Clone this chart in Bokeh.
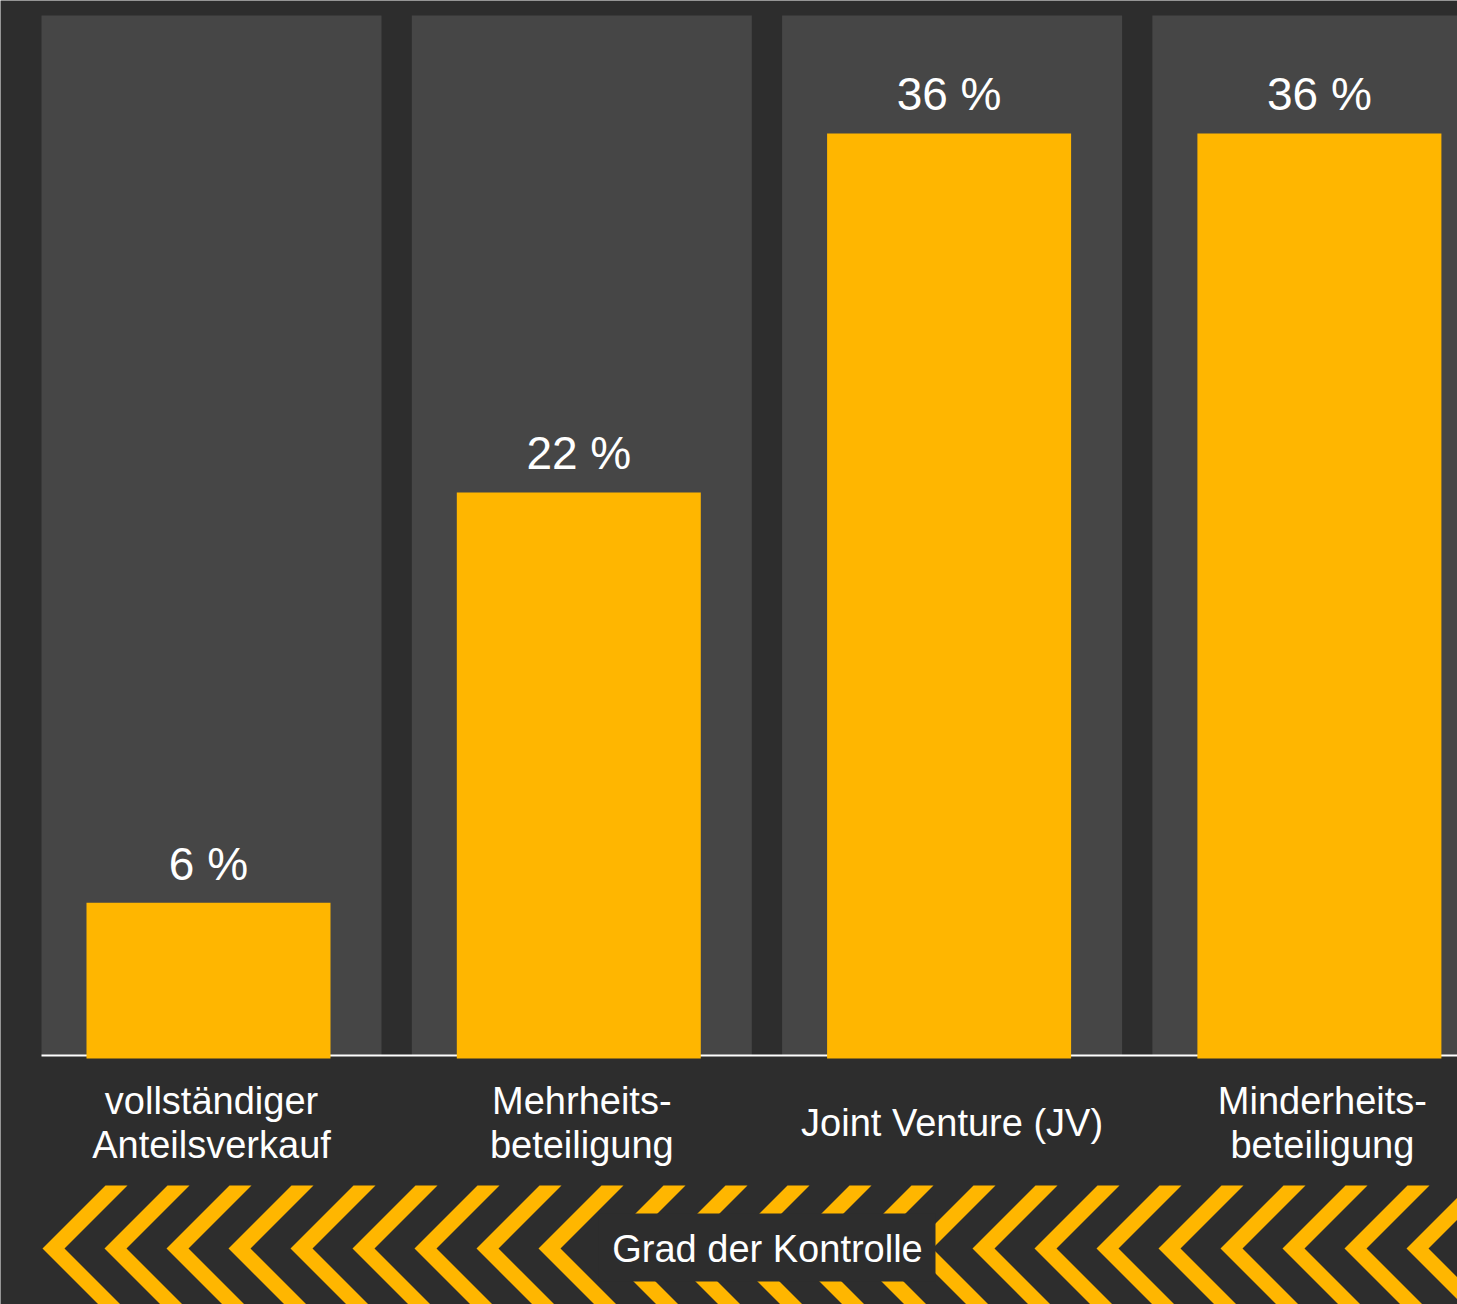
from bokeh.plotting import figure
from bokeh.models import Range1d
from bokeh.core.properties import value
from bokeh.embed import file_html
from bokeh.resources import INLINE

# ---- data ----
categories = ["vollständiger\nAnteilsverkauf", "Mehrheits-\nbeteiligung",
              "Joint Venture (JV)", "Minderheits-\nbeteiligung"]
shares = [6, 22, 36, 36]
share_labels = ["6 %", "22 %", "36 %", "36 %"]
band_title = "Grad der Kontrolle"

# ---- style / layout constants ----
W, H = 1457, 1304
BG = "#2d2d2d"
PANEL = "#464646"
GOLD = "#FFB600"
FONT = "Liberation Sans"

PITCH = 370.3      # px per category slot
X0 = 211.0         # px centre of first slot
PPU = 25.64        # px per percentage point
Y0 = 1056.0        # px of zero line


def X(px):
    return (px - X0) / PITCH


def Y(py):
    return (Y0 - py) / PPU


p = figure(width=W, height=H, output_backend="svg", toolbar_location=None,
           x_range=Range1d(X(0), X(W)), y_range=Range1d(Y(H), Y(0)),
           min_border=0, x_axis_location=None, y_axis_location=None)
p.background_fill_color = BG
p.border_fill_color = BG
p.outline_line_color = None
p.grid.visible = False

idx = list(range(len(categories)))

# background panels
p.vbar(x=idx, width=340 / PITCH, bottom=Y(1055), top=Y(15),
       fill_color=PANEL, line_color=None)

# baseline
p.segment(x0=[X(41)], y0=[Y(1055)], x1=[X(W + 5)], y1=[Y(1055)],
          line_color="white", line_width=2)

# bars
bar_x = [i - 3 / PITCH for i in idx]
p.vbar(x=bar_x, width=244 / PITCH, bottom=Y(1058), top=shares,
       fill_color=GOLD, line_color=None)

# value labels
p.text(x=bar_x, y=shares, text=share_labels, text_align="center",
       text_baseline="middle", y_offset=-39, text_color="white",
       text_font=value(FONT), text_font_size="46px")

# category labels
lx, ly, lt = [], [], []
for i, c in enumerate(categories):
    lines = c.split("\n")
    if len(lines) == 1:
        centers = [1122]
    else:
        centers = [1100, 1144]
    for ln, b in zip(lines, centers):
        lx.append(i)
        ly.append(Y(b))
        lt.append(ln)
p.text(x=lx, y=ly, text=lt, text_align="center", text_baseline="middle",
       text_color="white", text_font=value(FONT), text_font_size="38px")

# chevron band
xs, ys = [], []
for k in range(25):
    t = 42 + 62 * k
    pts = [(t, 1248), (t + 63, 1185), (t + 85, 1185), (t + 22, 1248),
           (t + 85, 1311), (t + 63, 1311)]
    xs.append([X(a) for a, _ in pts])
    ys.append([Y(b) for _, b in pts])
p.patches(xs=xs, ys=ys, fill_color=GOLD, line_color=None)

# title box over the chevrons
p.quad(left=[X(598)], right=[X(935)], top=[Y(1213)], bottom=[Y(1281)],
       fill_color=BG, line_color=None)
p.text(x=[X(767)], y=[Y(1248)], text=[band_title], text_align="center",
       text_baseline="middle", text_color="white",
       text_font=value(FONT), text_font_size="38px")

open("out.html", "w").write(file_html(p, INLINE))
